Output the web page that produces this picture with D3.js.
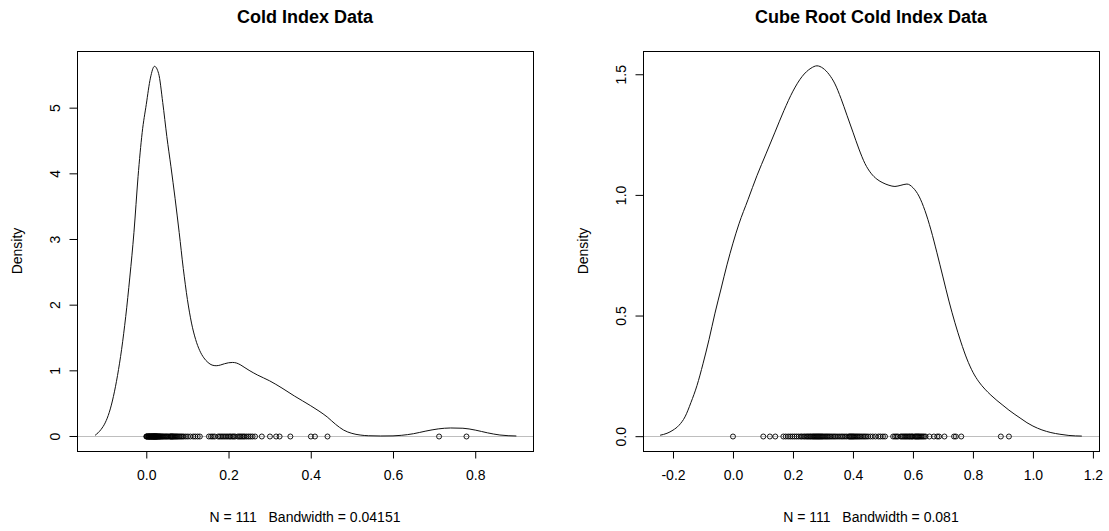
<!DOCTYPE html>
<html>
<head>
<meta charset="utf-8">
<script src="https://cdn.jsdelivr.net/npm/d3@7"></script>
<style>
  html, body { margin: 0; padding: 0; background: #fff; }
  svg { display: block; }
  text { font-family: "Liberation Sans", Arial, sans-serif; fill: #000; }
</style>
</head>
<body>
<svg id="chart" width="1109" height="531"></svg>
<script>
// ---------- Data ----------
// Left panel: density curve of the Cold Index data (x, density)
const coldX = [-0.1245,-0.11,-0.10,-0.09,-0.08,-0.07,-0.06,-0.05,-0.04,-0.03,-0.02,-0.01,0.00,0.01,0.02,0.03,0.04,0.05,0.06,0.07,0.08,0.09,0.10,0.11,0.12,0.13,0.14,0.15,0.16,0.17,0.18,0.19,0.20,0.21,0.22,0.23,0.24,0.25,0.27,0.30,0.33,0.36,0.40,0.42,0.44,0.46,0.48,0.50,0.52,0.54,0.57,0.60,0.62,0.65,0.68,0.71,0.74,0.77,0.80,0.83,0.86,0.90];
const coldY = [0.01,0.10,0.20,0.36,0.60,0.92,1.32,1.82,2.42,3.10,3.95,4.62,5.05,5.45,5.63,5.52,5.08,4.56,4.10,3.62,3.10,2.55,2.08,1.72,1.47,1.30,1.19,1.12,1.08,1.07,1.08,1.10,1.115,1.12,1.11,1.08,1.04,1.00,0.93,0.84,0.73,0.61,0.46,0.38,0.29,0.18,0.09,0.04,0.015,0.004,0.0,0.002,0.01,0.035,0.075,0.108,0.122,0.118,0.09,0.048,0.015,0.0];

// Right panel: density curve of the cube-root data (x, density)
const cubeX = [-0.243,-0.22,-0.20,-0.18,-0.16,-0.14,-0.12,-0.10,-0.08,-0.06,-0.04,-0.02,0.00,0.02,0.05,0.08,0.11,0.14,0.17,0.20,0.23,0.26,0.28,0.30,0.32,0.34,0.36,0.38,0.40,0.42,0.44,0.46,0.48,0.50,0.52,0.54,0.56,0.58,0.60,0.62,0.64,0.66,0.68,0.70,0.72,0.74,0.76,0.78,0.80,0.82,0.84,0.86,0.88,0.90,0.92,0.94,0.96,0.98,1.00,1.03,1.06,1.09,1.12,1.163];
const cubeY = [0.004,0.012,0.025,0.045,0.08,0.14,0.21,0.30,0.40,0.51,0.61,0.71,0.80,0.88,0.98,1.08,1.17,1.26,1.35,1.43,1.49,1.525,1.535,1.525,1.50,1.46,1.40,1.33,1.26,1.19,1.13,1.09,1.065,1.05,1.04,1.035,1.04,1.045,1.03,0.995,0.935,0.855,0.76,0.66,0.56,0.47,0.39,0.32,0.265,0.225,0.195,0.17,0.148,0.128,0.108,0.09,0.073,0.056,0.042,0.026,0.015,0.008,0.003,0.0005];

// Rug observations (N = 111)
const coldObs = [0.0000,0.0010,0.0019,0.0028,0.0047,0.0055,0.0062,0.0070,0.0078,0.0086,0.0095,0.0105,0.0115,0.0122,0.0131,0.0138,0.0147,0.0154,0.0162,0.0170,0.0176,0.0184,0.0190,0.0197,0.0204,0.0210,0.0217,0.0224,0.0232,0.0239,0.0246,0.0254,0.0262,0.0270,0.0281,0.0292,0.0304,0.0316,0.0328,0.0340,0.0356,0.0373,0.0390,0.0407,0.0429,0.0451,0.0474,0.0494,0.0519,0.0544,0.0575,0.0589,0.0602,0.0616,0.0631,0.0645,0.0659,0.0679,0.0699,0.0720,0.0741,0.0762,0.0790,0.0818,0.0846,0.0875,0.0911,0.0961,0.1012,0.1072,0.1141,0.1191,0.1250,0.1303,0.1523,0.1575,0.1619,0.1664,0.1747,0.1785,0.1823,0.1862,0.1901,0.1941,0.1982,0.2023,0.2054,0.2096,0.2128,0.2160,0.2226,0.2259,0.2292,0.2326,0.2360,0.2395,0.2441,0.2489,0.2536,0.2585,0.2646,0.2810,0.3008,0.3158,0.3242,0.3504,0.4003,0.4102,0.4407,0.7121,0.7787];
const cubeObs = [0.000,0.101,0.123,0.141,0.168,0.176,0.184,0.191,0.198,0.205,0.212,0.219,0.226,0.230,0.236,0.240,0.245,0.249,0.253,0.257,0.260,0.264,0.267,0.270,0.273,0.276,0.279,0.282,0.285,0.288,0.291,0.294,0.297,0.300,0.304,0.308,0.312,0.316,0.320,0.324,0.329,0.334,0.339,0.344,0.350,0.356,0.362,0.367,0.373,0.379,0.386,0.389,0.392,0.395,0.398,0.401,0.404,0.408,0.412,0.416,0.420,0.424,0.429,0.434,0.439,0.444,0.450,0.458,0.466,0.475,0.485,0.492,0.500,0.507,0.534,0.540,0.545,0.550,0.559,0.563,0.567,0.571,0.575,0.579,0.583,0.587,0.590,0.594,0.597,0.600,0.606,0.609,0.612,0.615,0.618,0.621,0.625,0.629,0.633,0.637,0.642,0.655,0.670,0.681,0.687,0.705,0.737,0.743,0.761,0.893,0.920];

// Tick values / labels
const coldXTicks = [0.0, 0.2, 0.4, 0.6, 0.8];
const coldYTicks = [0, 1, 2, 3, 4, 5];
const cubeXTicks = [-0.2, 0.0, 0.2, 0.4, 0.6, 0.8, 1.0, 1.2];
const cubeYTicks = [0.0, 0.5, 1.0, 1.5];

const titles = ["Cold Index Data", "Cube Root Cold Index Data"];
const subLabels = ["N = 111   Bandwidth = 0.04151", "N = 111   Bandwidth = 0.081"];

// ---------- Drawing ----------
const svg = d3.select("#chart");
svg.append("rect").attr("width", 1109).attr("height", 531).attr("fill", "#fff");

const fmt1 = d => d.toFixed(1);
const fmt0 = d => d.toFixed(0);

const panels = [
  { box: [77, 533], xDom: [-0.1685, 0.9405], yDom: [-0.2285, 5.863],
    cx: coldX, cy: coldY, obs: coldObs, xt: coldXTicks, yt: coldYTicks,
    xfmt: fmt1, yfmt: fmt0, title: titles[0], sub: subLabels[0] },
  { box: [643, 1099], xDom: [-0.3, 1.2203], yDom: [-0.0614, 1.5964],
    cx: cubeX, cy: cubeY, obs: cubeObs, xt: cubeXTicks, yt: cubeYTicks,
    xfmt: fmt1, yfmt: fmt1, title: titles[1], sub: subLabels[1] }
];

const plotTop = 51, plotBottom = 451;

panels.forEach(p => {
  const x = d3.scaleLinear().domain(p.xDom).range(p.box);
  const y = d3.scaleLinear().domain(p.yDom).range([plotBottom, plotTop]);
  const g = svg.append("g");
  const cxm = (p.box[0] + p.box[1]) / 2;
  const y0 = Math.round(y(0)) + 0.5;

  // zero line
  g.append("line")
    .attr("x1", p.box[0]).attr("x2", p.box[1])
    .attr("y1", y0).attr("y2", y0)
    .attr("stroke", "#bebebe").attr("stroke-width", 1);

  // density curve
  const pts = p.cx.map((v, i) => [v, p.cy[i]]);
  g.append("path")
    .datum(pts)
    .attr("fill", "none")
    .attr("stroke", "#111")
    .attr("stroke-width", 1)
    .attr("d", d3.line().x(d => x(d[0])).y(d => y(d[1])).curve(d3.curveMonotoneX));

  // rug points
  g.selectAll("circle.obs").data(p.obs).enter().append("circle")
    .attr("class", "obs")
    .attr("cx", d => x(d)).attr("cy", y0).attr("r", 2.5)
    .attr("fill", "none").attr("stroke", "#000").attr("stroke-width", 0.9);

  // box
  g.append("rect")
    .attr("x", p.box[0] + 0.5).attr("y", plotTop + 0.5)
    .attr("width", p.box[1] - p.box[0]).attr("height", plotBottom - plotTop)
    .attr("fill", "none").attr("stroke", "#000").attr("stroke-width", 1);

  // x axis
  const xAxis = d3.axisBottom(x).tickValues(p.xt).tickFormat(p.xfmt).tickSize(7).tickPadding(12);
  const xa = g.append("g").attr("transform", `translate(0,${plotBottom + 0.5})`).call(xAxis);
  xa.select(".domain").remove();
  xa.selectAll("text").attr("font-size", 14).attr("font-family", "Liberation Sans, Arial, sans-serif").attr("fill", "#000");
  xa.selectAll("line").attr("stroke", "#000");

  // y axis
  const yAxis = d3.axisLeft(y).tickValues(p.yt).tickFormat(p.yfmt).tickSize(8).tickPadding(0);
  const ya = g.append("g").attr("transform", `translate(${p.box[0] + 0.5},0)`).call(yAxis);
  ya.select(".domain").remove();
  ya.selectAll("line").attr("stroke", "#000");
  ya.selectAll("text")
    .attr("x", 0)
    .attr("text-anchor", "middle")
    .attr("transform", "translate(-23,0) rotate(-90)")
    .attr("dy", "0.36em")
    .attr("font-size", 14).attr("font-family", "Liberation Sans, Arial, sans-serif").attr("fill", "#000");

  // title
  g.append("text").attr("x", cxm).attr("y", 23)
    .attr("text-anchor", "middle").attr("font-weight", "bold").attr("font-size", 18)
    .text(p.title);

  // x sub label
  g.append("text").attr("x", cxm).attr("y", 522)
    .attr("text-anchor", "middle").attr("font-size", 14)
    .style("white-space", "pre").attr("xml:space", "preserve")
    .text(p.sub);

  // y label
  g.append("text")
    .attr("transform", `translate(${p.box[0] - 60},${(plotTop + plotBottom) / 2}) rotate(-90)`)
    .attr("text-anchor", "middle").attr("dy", "0.36em").attr("font-size", 14)
    .text("Density");
});
</script>
</body>
</html>
